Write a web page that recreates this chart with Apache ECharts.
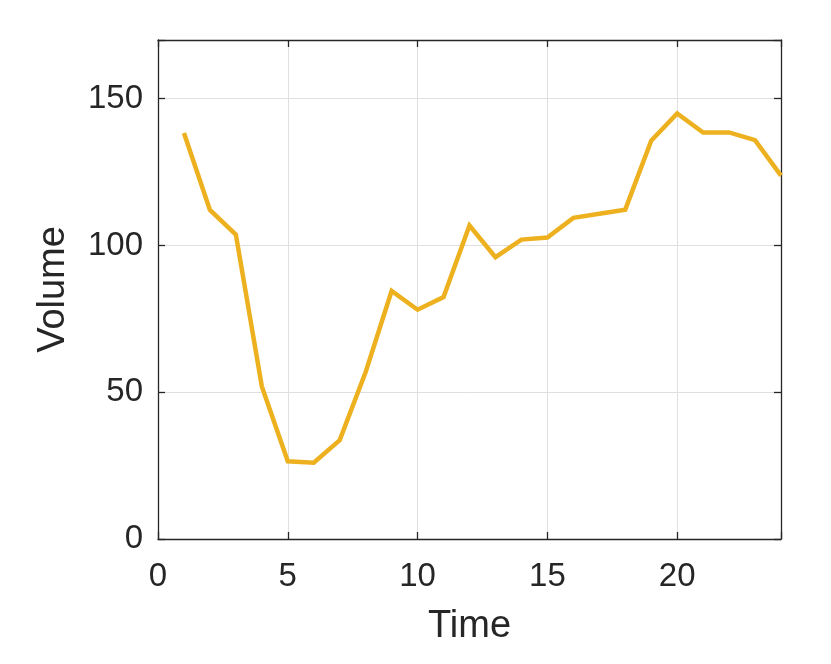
<!DOCTYPE html>
<html>
<head>
<meta charset="utf-8">
<script src="https://cdn.jsdelivr.net/npm/echarts@6/dist/echarts.min.js"></script>
<style>html,body{margin:0;padding:0;background:#fff;}#c{width:831px;height:664px;}</style>
</head>
<body>
<div id="c"></div>
<script>
const timeValues = [1,2,3,4,5,6,7,8,9,10,11,12,13,14,15,16,17,18,19,20,21,22,23,24];
const volumeValues = [138.3,112.1,103.7,52.0,26.5,26.0,33.7,56.9,84.5,78.1,82.4,106.8,96.0,102.0,102.7,109.4,110.8,112.2,135.7,145.0,138.5,138.5,135.9,123.8];
const xTicks = [0,5,10,15,20];
const yTicks = [0,50,100,150];

const chart = echarts.init(document.getElementById('c'), null, {renderer:'canvas'});
const font = 'Liberation Sans, Arial, Helvetica, sans-serif';
const axisCol = '#262626';
const gridLine = {show:true, lineStyle:{color:'#dfdfdf', width:1}};
const data = timeValues.map((t,i)=>[t, volumeValues[i]]);

chart.setOption({
  animation:false,
  backgroundColor:'#ffffff',
  grid:{left:158, right:50, top:40, bottom:125, containLabel:false},
  xAxis:[{
    type:'value', min:0, max:24, interval:5, position:'bottom',
    name:'Time', nameLocation:'middle', nameGap:69,
    nameTextStyle:{fontFamily:font, fontSize:38, color:axisCol},
    axisLine:{show:true, onZero:false, lineStyle:{color:axisCol, width:1.3}},
    axisTick:{show:true, inside:true, length:7, lineStyle:{color:axisCol, width:1.3}},
    axisLabel:{margin:21, fontFamily:font, fontSize:33, color:axisCol,
      formatter:v=> xTicks.includes(v) ? String(v) : ''},
    splitLine:gridLine
  },{
    type:'value', min:0, max:24, interval:5, position:'top',
    axisLine:{show:true, onZero:false, lineStyle:{color:axisCol, width:1.3}},
    axisTick:{show:true, inside:true, length:7, lineStyle:{color:axisCol, width:1.3}},
    axisLabel:{show:false}, splitLine:{show:false}
  }],
  yAxis:[{
    type:'value', min:0, max:170, interval:50, position:'left',
    name:'Volume', nameLocation:'middle', nameGap:85,
    nameTextStyle:{fontFamily:font, fontSize:38, color:axisCol},
    axisLine:{show:true, onZero:false, lineStyle:{color:axisCol, width:1.3}},
    axisTick:{show:true, inside:true, length:7, lineStyle:{color:axisCol, width:1.3}},
    axisLabel:{margin:15, fontFamily:font, fontSize:33, color:axisCol, padding:[0,0,-7,0],
      formatter:v=> yTicks.includes(v) ? String(v) : ''},
    splitLine:gridLine
  },{
    type:'value', min:0, max:170, interval:50, position:'right',
    axisLine:{show:true, onZero:false, lineStyle:{color:axisCol, width:1.3}},
    axisTick:{show:true, inside:true, length:7, lineStyle:{color:axisCol, width:1.3}},
    axisLabel:{show:false}, splitLine:{show:false}
  }],
  series:[{
    type:'line', data:data, xAxisIndex:0, yAxisIndex:0,
    showSymbol:false, symbol:'none',
    lineStyle:{color:'#EDB120', width:4.5, join:'miter'},
    clip:true
  }]
});
</script>
</body>
</html>
